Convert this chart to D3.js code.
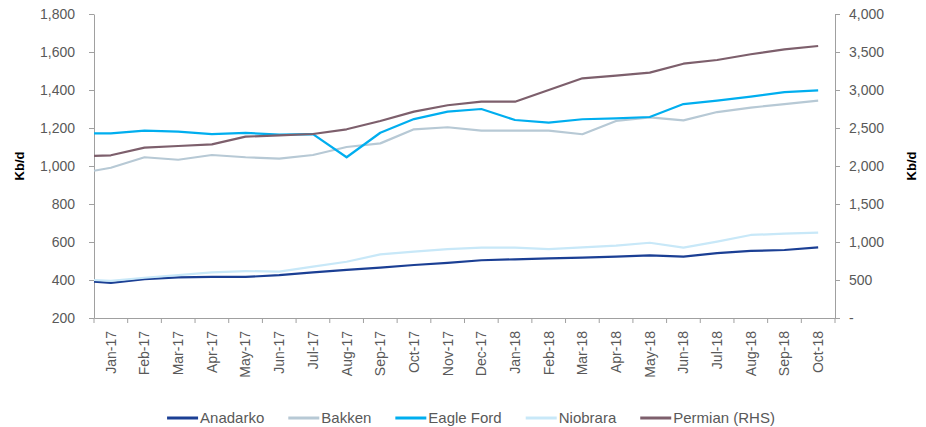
<!DOCTYPE html>
<html>
<head>
<meta charset="utf-8">
<script src="https://cdn.jsdelivr.net/npm/d3@7"></script>
<style>
  body { margin: 0; background: #fff; }
  svg { font-family: "Liberation Sans", Arial, sans-serif; }
</style>
</head>
<body>
<div id="chart"></div>
<script>
// month labels on the category axis
var months = ["Jan-17", "Feb-17", "Mar-17", "Apr-17", "May-17", "Jun-17", "Jul-17", "Aug-17",
  "Sep-17", "Oct-17", "Nov-17", "Dec-17", "Jan-18", "Feb-18", "Mar-18", "Apr-18", "May-18",
  "Jun-18", "Jul-18", "Aug-18", "Sep-18", "Oct-18"];

// first value of each series sits on the left edge of the axis, the rest on the months
var anadarko = [391, 385, 405, 414, 416, 416, 426, 440, 453, 465, 479, 490, 504, 509, 514, 518, 523, 530, 523, 541, 553, 558, 572];
var bakken = [975, 991, 1046, 1033, 1058, 1046, 1039, 1058, 1100, 1119, 1193, 1204, 1186, 1186, 1186, 1167, 1237, 1256, 1240, 1284, 1307, 1326, 1344];
var eagleFord = [1172, 1172, 1186, 1181, 1168, 1174, 1165, 1168, 1046, 1175, 1247, 1286, 1300, 1242, 1228, 1246, 1251, 1258, 1326, 1344, 1365, 1389, 1398];
var niobrara = [400, 395, 412, 426, 440, 447, 444, 470, 496, 535, 549, 563, 570, 570, 563, 572, 581, 596, 570, 602, 637, 644, 649];
var permian = [2132, 2141, 2241, 2263, 2285, 2386, 2404, 2421, 2483, 2592, 2715, 2799, 2846, 2846, 3000, 3154, 3189, 3228, 3346, 3395, 3470, 3535, 3579];

var leftTicks = [200, 400, 600, 800, 1000, 1200, 1400, 1600, 1800];
var rightTicks = [0, 500, 1000, 1500, 2000, 2500, 3000, 3500, 4000];

var series = [
  { name: "Anadarko", values: anadarko, color: "#1B3F94", axis: "left" },
  { name: "Bakken", values: bakken, color: "#B7C9D5", axis: "left" },
  { name: "Eagle Ford", values: eagleFord, color: "#00AEEF", axis: "left" },
  { name: "Niobrara", values: niobrara, color: "#C8E8F8", axis: "left" },
  { name: "Permian (RHS)", values: permian, color: "#7D5F6C", axis: "right" }
];

var width = 926, height = 427;
var margin = { top: 14, left: 94, right: 91, bottom: 109 };
var plotW = width - margin.left - margin.right;
var plotH = height - margin.top - margin.bottom;

var svg = d3.select("#chart").append("svg")
  .attr("width", width)
  .attr("height", height);

var g = svg.append("g")
  .attr("transform", "translate(" + margin.left + "," + margin.top + ")");

var x = d3.scaleBand().domain(months).range([0, plotW]).padding(0);
var yLeft = d3.scaleLinear().domain([200, 1800]).range([plotH, 0]);
var yRight = d3.scaleLinear().domain([0, 4000]).range([plotH, 0]);

function xPos(i) {
  if (i === 0) return x.range()[0];
  return x(months[i - 1]) + x.bandwidth() / 2;
}

var axisColor = "#A0A0A0";
var textColor = "#595959";

// left axis
var leftAxis = g.append("g")
  .call(d3.axisLeft(yLeft).tickValues(leftTicks).tickFormat(d3.format(",")).tickSize(5).tickSizeOuter(0).tickPadding(14));

// right axis
var rightAxis = g.append("g")
  .attr("transform", "translate(" + plotW + ",0)")
  .call(d3.axisRight(yRight).tickValues(rightTicks)
    .tickFormat(function(d) { return d === 0 ? "-" : d3.format(",")(d); })
    .tickSize(5).tickSizeOuter(0).tickPadding(9));

// x axis labels
var xAxis = g.append("g")
  .attr("transform", "translate(0," + plotH + ")")
  .call(d3.axisBottom(x).tickSize(0).tickSizeOuter(0));

xAxis.selectAll("text")
  .attr("transform", "rotate(-90)")
  .attr("x", -13)
  .attr("y", 0)
  .attr("dy", "0.35em")
  .style("text-anchor", "end");

// tick marks between categories
var boundaries = months.map(function(m) { return x(m); }).concat([x.range()[1]]);
xAxis.selectAll(".bound")
  .data(boundaries)
  .enter().append("line")
  .attr("class", "bound")
  .attr("x1", function(d) { return d; })
  .attr("x2", function(d) { return d; })
  .attr("y1", 0)
  .attr("y2", 5)
  .attr("stroke", axisColor);

[leftAxis, rightAxis, xAxis].forEach(function(a) {
  a.selectAll("path, line").attr("stroke", axisColor);
  a.selectAll("text").attr("fill", textColor).style("font-size", "14px");
});

// axis titles
svg.append("text")
  .attr("transform", "translate(24," + (margin.top + plotH / 2) + ") rotate(-90)")
  .style("text-anchor", "middle")
  .style("font-size", "13px")
  .style("font-weight", "bold")
  .text("Kb/d");

svg.append("text")
  .attr("transform", "translate(916," + (margin.top + plotH / 2) + ") rotate(-90)")
  .style("text-anchor", "middle")
  .style("font-size", "13px")
  .style("font-weight", "bold")
  .text("Kb/d");

// lines
series.forEach(function(s) {
  var yScale = s.axis === "left" ? yLeft : yRight;
  var line = d3.line()
    .x(function(d, i) { return xPos(i); })
    .y(function(d) { return yScale(d); });
  g.append("path")
    .datum(s.values)
    .attr("fill", "none")
    .attr("stroke", s.color)
    .attr("stroke-width", 2.2)
    .attr("stroke-linejoin", "round")
    .attr("d", line);
});

// legend
var legend = svg.append("g");
var legendX = 0;
series.forEach(function(s) {
  var item = legend.append("g").attr("transform", "translate(" + legendX + ",0)");
  item.append("line")
    .attr("x1", 0).attr("x2", 31)
    .attr("y1", 0).attr("y2", 0)
    .attr("stroke", s.color)
    .attr("stroke-width", 3);
  var t = item.append("text")
    .attr("x", 33)
    .attr("y", 0)
    .attr("dy", "0.35em")
    .attr("fill", textColor)
    .style("font-size", "15px")
    .text(s.name);
  legendX += 33 + t.node().getComputedTextLength() + 24;
});
var legendW = legendX - 24;
legend.attr("transform", "translate(" + (471 - legendW / 2) + ",418)");
</script>
</body>
</html>
